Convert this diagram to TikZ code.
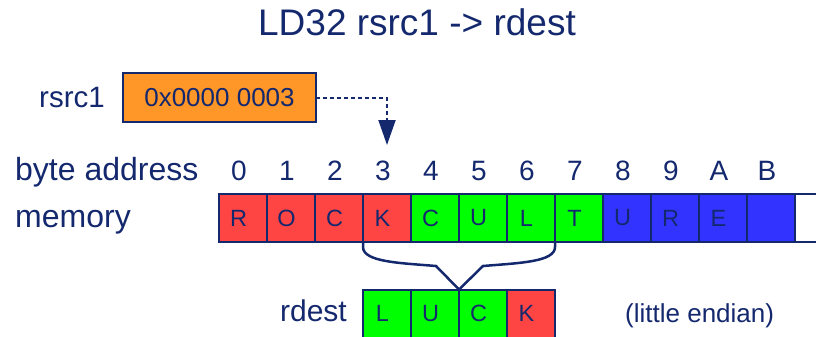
\documentclass[tikz,border=0pt]{standalone}
\usepackage{fontspec}
\setmainfont{Liberation Sans}
\usetikzlibrary{arrows.meta}
\definecolor{navy}{RGB}{20,40,110}
\definecolor{cred}{RGB}{255,68,68}
\definecolor{cgreen}{RGB}{0,255,0}
\definecolor{cblue}{RGB}{51,51,255}
\definecolor{corange}{RGB}{255,150,40}
\begin{document}
\begin{tikzpicture}[x=1pt,y=-1pt,
  cell/.style={draw=navy, line width=2pt, minimum width=48pt, minimum height=48pt,
    inner sep=0pt, outer sep=0pt, text=navy, font=\fontsize{23.5}{25}\selectfont,
    execute at begin node={\kern-9pt}},
  lab/.style={text=navy, inner sep=0pt, font=\fontsize{32}{34}\selectfont},
  digit/.style={text=navy, inner sep=0pt, anchor=base, font=\fontsize{28}{30}\selectfont},
  regbox/.style={draw=navy, line width=2pt, fill=corange, minimum width=193pt,
    minimum height=49pt, inner sep=0pt, outer sep=0pt, text=navy,
    font=\fontsize{26}{28}\selectfont},
  ptr/.style={draw=navy, line width=2pt, dash pattern=on 4pt off 3pt,
    -{Triangle[length=25pt,width=17pt,fill=navy]}},
  brace/.style={draw=navy, line width=2.5pt, line join=miter}
]
\clip (0,0) rectangle (816,337);

\node[lab, anchor=base, font=\fontsize{37}{40}\selectfont] (title) at (417,36) {LD32 rsrc1 -> rdest};

\node[lab, anchor=base west, font=\fontsize{29.5}{32}\selectfont] (lsrc) at (39,107) {rsrc1};
\node[regbox] (src) at (219.5,97.5) {0x0000 0003};

\node[lab, anchor=base west] (lbyte) at (15,180) {byte address};
\node[lab, anchor=base west] (lmem) at (15,227) {memory};

\foreach \i/\t in {0/0,1/1,2/2,3/3,4/4,5/5,6/6,7/7,8/8,9/9,10/A,11/B}
  \node[digit] (d\i) at ({239+48*\i},180) {\t};

\foreach \i/\c/\t in {0/cred/R,1/cred/O,2/cred/C,3/cred/K,4/cgreen/C,5/cgreen/U,
    6/cgreen/L,7/cgreen/T,8/cblue/U,9/cblue/R,10/cblue/E,11/cblue/{}}
  \node[cell, fill=\c] (m\i) at ({243+48*\i},218) {\t};
\node[cell, fill=white] (m12) at (819,218) {};

\foreach \i/\c/\t in {0/cgreen/L,1/cgreen/U,2/cgreen/C,3/cred/K}
  \node[cell, fill=\c] (r\i) at ({387+48*\i},313.5) {\t};

\node[lab, anchor=base east, font=\fontsize{30}{32}\selectfont] (ldest) at (347,321) {rdest};
\node[lab, anchor=base west, font=\fontsize{26}{28}\selectfont] (lend) at (625,322) {(little endian)};

\coordinate (tip) at (387,145);
\draw[ptr] (src.east) -| (tip);

\coordinate (bl) at (436,266);
\coordinate (br) at (483,266);
\draw[brace] (m3.south west) -- ++(0,5) .. controls +(0,15) and +(-36,-3) .. (bl)
  -- (r1.north east) -- (br) .. controls +(36,-3) and +(0,15) .. (555,247) -- (m6.south east);
\end{tikzpicture}
\end{document}
